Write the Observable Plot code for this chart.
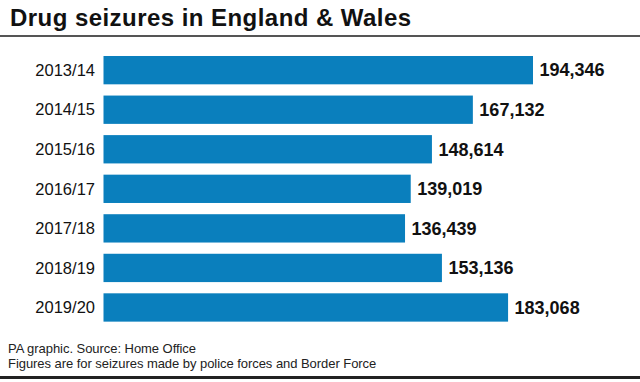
<!DOCTYPE html>
<html>
<head>
<meta charset="utf-8">
<script src="https://cdn.jsdelivr.net/npm/d3@7"></script>
<script src="https://cdn.jsdelivr.net/npm/@observablehq/plot@0.6"></script>
<style>
  html, body { margin: 0; padding: 0; background: #fff; width: 640px; height: 382px; overflow: hidden; position: relative; }
  #title { position: absolute; left: 10px; top: 5.7px; font-family: "Liberation Sans", Arial, sans-serif; font-weight: bold; font-size: 24px; line-height: 24px; letter-spacing: 0.45px; color: #111; white-space: nowrap; }
  #rule-top { position: absolute; left: 0; top: 35px; width: 640px; height: 2px; background: #555; }
  #chart { position: absolute; left: 0; top: 38px; width: 640px; height: 296px; }
  #footer { position: absolute; left: 8px; top: 341px; font-family: "Liberation Sans", Arial, sans-serif; font-size: 13px; line-height: 15px; color: #222; letter-spacing: -0.05px; white-space: nowrap; }
  #rule-bottom { position: absolute; left: 0; top: 376px; width: 640px; height: 3px; background: #222; }
</style>
</head>
<body>
<div id="title">Drug seizures in England &amp; Wales</div>
<div id="rule-top"></div>
<div id="chart"></div>
<div id="footer">PA graphic. Source: Home Office<br>Figures are for seizures made by police forces and Border Force</div>
<div id="rule-bottom"></div>
<script>
const years = ["2013/14", "2014/15", "2015/16", "2016/17", "2017/18", "2018/19", "2019/20"];
const seizures = [194346, 167132, 148614, 139019, 136439, 153136, 183068];

const data = years.map((y, i) => ({year: y, value: seizures[i]}));

const chart = Plot.plot({
  width: 640,
  height: 296,
  marginLeft: 103.5,
  marginRight: 107,
  marginTop: 6.77,
  marginBottom: 1.13,
  style: {fontFamily: "'Liberation Sans', Arial, sans-serif", background: "white"},
  x: {domain: [0, d3.max(seizures)], axis: null},
  y: {domain: years, padding: 0.284, round: false, label: null},
  marks: [
    Plot.barX(data, {x: "value", y: "year", fill: "#0a7fbd"}),
    Plot.axisY({tickSize: 0, tickPadding: 9, fontSize: 16.5, label: null, color: "#111"}),
    Plot.text(data, {x: "value", y: "year", text: d => d3.format(",")(d.value), textAnchor: "start", dx: 6, fontSize: 18, fontWeight: "bold", fill: "#111", letterSpacing: "-0.5px"})
  ]
});
chart.style.display = "block";
document.getElementById("chart").appendChild(chart);
</script>
</body>
</html>
